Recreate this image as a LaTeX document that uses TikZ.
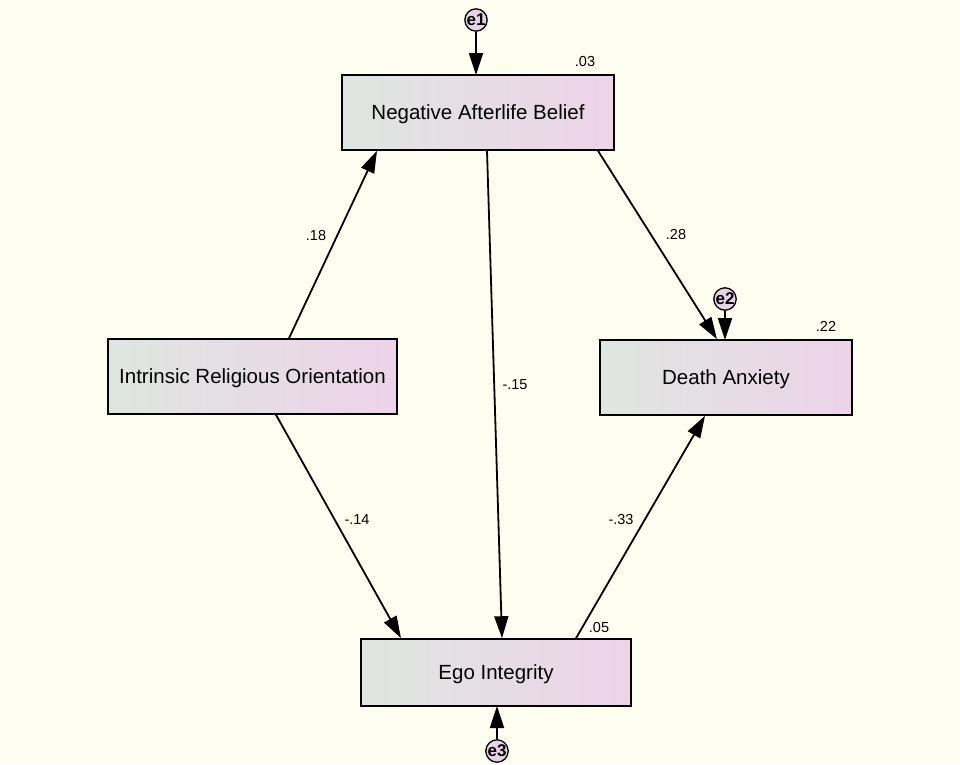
\documentclass[tikz,border=0pt]{standalone}
\usepackage{fontspec}
\setmainfont{Liberation Sans}
\usetikzlibrary{arrows.meta}
\definecolor{bgc}{HTML}{FEFEF0}
\definecolor{boxl}{HTML}{DFE6E0}
\definecolor{boxr}{HTML}{EDD3E9}
\definecolor{errc}{HTML}{E8D4E8}
\tikzset{
  varbox/.style={draw=black, line width=1.6pt, left color=boxl, right color=boxr, minimum height=#1, font=\fontsize{20.5}{24}\selectfont, inner sep=0pt, text depth=-3pt},
  errnode/.style={circle, draw=black, line width=1.3pt, fill=errc, minimum size=20pt, inner sep=0pt, font=\fontsize{17}{17}\selectfont\bfseries},
  path arrow/.style={line width=1.8pt, -{Triangle[length=22pt,width=14pt]}},
  coef/.style={font=\fontsize{14.5}{16}\selectfont, inner sep=0pt}
}
\begin{document}
\begin{tikzpicture}[x=1pt,y=-1pt]
\fill[bgc] (0,0) rectangle (960,764);
\useasboundingbox (0,0) rectangle (960,764);
\node[varbox=75pt, minimum width=272pt] (nab) at (478,112.5) {Negative Afterlife Belief};
\node[varbox=75pt, minimum width=289pt] (iro) at (252.5,376.5) {Intrinsic Religious Orientation};
\node[varbox=75pt, minimum width=252pt] (da) at (726,377.5) {Death Anxiety};
\node[varbox=67pt, minimum width=270pt] (ei) at (496,672.5) {Ego Integrity};
\node[errnode] (e1) at (476,20) {e1};
\node[errnode] (e2) at (725,299) {e2};
\node[errnode] (e3) at (497,751) {e3};
\coordinate (nabtop) at (476,75);
\coordinate (datop) at (725,340);
\coordinate (eibot) at (497,706);
\draw[path arrow] (e1) -- (nabtop);
\draw[path arrow] (e2) -- (datop);
\draw[path arrow] (e3) -- (eibot);
\draw[path arrow] (iro.north -| 289,0) -- (nab.south -| 377,0);
\draw[path arrow] (iro.south -| 276,0) -- (ei.north -| 401,0);
\draw[path arrow] (nab.south -| 487,0) -- (ei.north -| 502,0);
\draw[path arrow] (nab.south -| 598,0) -- (da.north -| 717,0);
\draw[path arrow] (ei.north -| 576,0) -- (da.south -| 705,0);
\node[coef] (c1) at (316,236) {.18};
\node[coef] (c2) at (357,519) {-.14};
\node[coef] (c3) at (515,385) {-.15};
\node[coef] (c4) at (676,235) {.28};
\node[coef] (c5) at (621,519) {-.33};
\node[coef] (r1) at (585,62) {.03};
\node[coef] (r2) at (826,326) {.22};
\node[coef] (r3) at (599,627) {.05};
\end{tikzpicture}
\end{document}
